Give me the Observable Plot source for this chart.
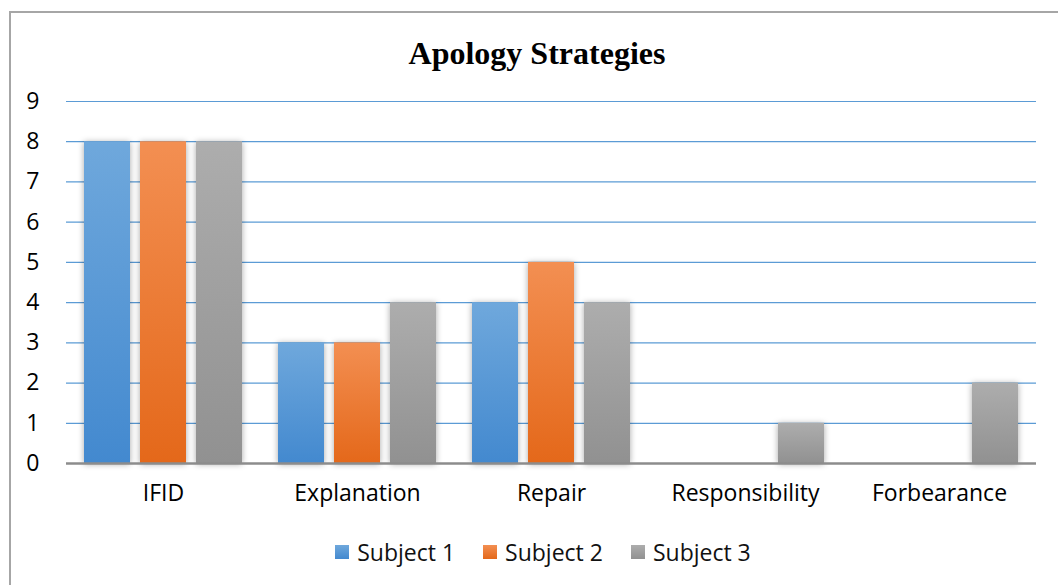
<!DOCTYPE html>
<html>
<head>
<meta charset="utf-8">
<script src="https://cdn.jsdelivr.net/npm/d3@7"></script>
<script src="https://cdn.jsdelivr.net/npm/@observablehq/plot@0.6"></script>
<style>
  html, body { margin: 0; padding: 0; background: #fff; }
  #frame { position: relative; width: 1058px; height: 585px; overflow: hidden; background: #fff; }
  #border { position: absolute; left: 9px; top: 11px; width: 1200px; height: 700px; border-top: 2px solid #a6a6a6; border-left: 2px solid #a6a6a6; box-sizing: border-box; }
  #title { position: absolute; left: 0; width: 1074px; top: 33px; text-align: center; font-family: "Liberation Serif", "Times New Roman", serif; font-weight: bold; font-size: 32px; line-height: 40px; color: #000; }
  #chart { position: absolute; left: 0; top: 80px; }
  #legend { position: absolute; left: 0; width: 1086px; top: 536px; display: flex; justify-content: center; font-family: "Open Sans", sans-serif; font-size: 23px; line-height: 32px; color: #111; }
  .item { display: flex; align-items: center; margin: 0 14px; }
  .sw { width: 14px; height: 14px; margin-right: 8px; }
  .bars rect { filter: drop-shadow(0px 1px 3px rgba(0,0,0,0.35)); }
</style>
</head>
<body>
<div id="frame">
  <div id="border"></div>
  <div id="title">Apology Strategies</div>
  <div id="chart"></div>
  <div id="legend"></div>
</div>
<script>
const categories = ["IFID", "Explanation", "Repair", "Responsibility", "Forbearance"];
const subjects = ["Subject 1", "Subject 2", "Subject 3"];
const subject1 = [8, 3, 4, 0, 0];
const subject2 = [8, 3, 5, 0, 0];
const subject3 = [8, 4, 4, 1, 2];
const yTicks = [0, 1, 2, 3, 4, 5, 6, 7, 8, 9];
const gradients = [
  ["#6fa8dc", "#4389cf"],
  ["#f38f52", "#e4681a"],
  ["#adadad", "#919191"]
];

const series = [subject1, subject2, subject3];
const data = [];
categories.forEach((c, i) => {
  subjects.forEach((s, j) => {
    data.push({category: c, subject: s, value: series[j][i]});
  });
});

const defsMark = () => {
  const defs = d3.create("svg:defs");
  gradients.forEach((g, j) => {
    const lg = defs.append("linearGradient")
      .attr("id", "grad" + j)
      .attr("x1", 0).attr("y1", 0).attr("x2", 0).attr("y2", 1);
    lg.append("stop").attr("offset", "0%").attr("stop-color", g[0]);
    lg.append("stop").attr("offset", "100%").attr("stop-color", g[1]);
  });
  return defs.node();
};

const chart = Plot.plot({
  width: 1058,
  height: 440,
  marginLeft: 65,
  marginRight: 21,
  marginTop: 21,
  marginBottom: 57,
  style: { fontFamily: "'Open Sans', sans-serif", fontSize: "23px", color: "#000", background: "transparent" },
  fx: { domain: categories, padding: 0, label: null, axis: "bottom", tickSize: 0, tickPadding: 21 },
  x: { domain: subjects, paddingInner: 0.185, paddingOuter: 0.3, axis: null },
  y: { domain: [0, 9], ticks: yTicks, label: null, tickSize: 0, tickPadding: 27, tickFormat: d => String(d) },
  marks: [
    defsMark,
    Plot.ruleY(yTicks.filter(t => t > 0), { stroke: "#5b9bd5", strokeWidth: 1.2 }),
    ...subjects.map((s, j) => Plot.barY(data.filter(d => d.subject === s && d.value > 0), {
      fx: "category", x: "subject", y: "value", fill: `url(#grad${j})`, className: "bars"
    })),
    Plot.ruleY([0], { stroke: "#8c8c8c", strokeWidth: 2.5 })
  ]
});
chart.querySelectorAll("text").forEach(t => t.setAttribute("fill", "#000"));
document.getElementById("chart").appendChild(chart);

const legend = document.getElementById("legend");
subjects.forEach((s, j) => {
  const item = document.createElement("div");
  item.className = "item";
  const sw = document.createElement("div");
  sw.className = "sw";
  sw.style.background = `linear-gradient(${gradients[j][0]}, ${gradients[j][1]})`;
  const lab = document.createElement("span");
  lab.textContent = s;
  item.appendChild(sw);
  item.appendChild(lab);
  legend.appendChild(item);
});
</script>
</body>
</html>
